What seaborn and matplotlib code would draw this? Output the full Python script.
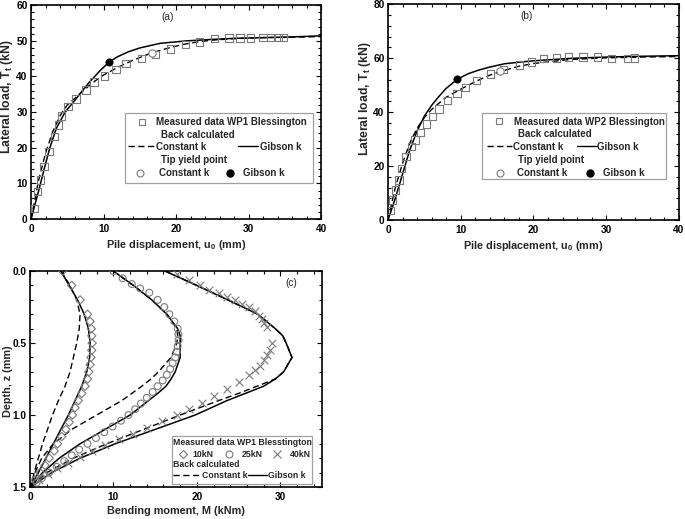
import numpy as np
import pandas as pd
import matplotlib
matplotlib.use("Agg")
import matplotlib.pyplot as plt
import seaborn as sns
from matplotlib.lines import Line2D
from matplotlib.legend import Legend
from matplotlib.patches import Rectangle
from matplotlib.ticker import AutoMinorLocator, FormatStrFormatter

# ---------------- data ----------------
# Panel (a) WP1
a_meas_x = [0.46, 0.9, 1.3, 1.8, 2.5, 3.2, 3.8, 4.2, 5.1, 6.2, 7.6, 8.7, 10.1, 11.7, 13.1, 15.2,
            17.2, 19.2, 21.3, 23.2, 25.3, 27.3, 28.8, 30.3, 32.0, 33.0, 34.1, 34.8]
a_meas_y = [3.0, 7.7, 10.9, 14.7, 18.9, 23.1, 26.4, 28.9, 31.5, 33.7, 36.2, 38.4, 40.1, 42.0, 43.6, 45.0,
            46.2, 47.7, 49.0, 49.7, 50.6, 50.8, 50.8, 50.8, 51.0, 50.9, 51.0, 51.0]
a_gib_x = [0, 1, 2, 2.6, 3.5, 4.7, 6.2, 7, 8.1, 9.5, 10.8, 12, 13.4, 15, 17.8, 21.5, 25, 28, 32, 36, 40]
a_gib_y = [0, 7.5, 15.5, 20, 25.5, 30, 33.7, 35.8, 38.5, 41.6, 44.1, 45.6, 46.9, 48.0, 49.3, 50.0, 50.4,
           50.7, 50.9, 51.1, 51.4]
a_con_x = [0, 0.5, 1, 2, 3, 4, 5, 6, 7, 8, 9, 10, 12, 14, 16.75, 19, 21, 23, 25, 28, 32, 36, 40]
a_con_y = [0, 5, 10.5, 18.5, 24.5, 29.0, 32.0, 33.8, 35.6, 37.4, 39.0, 40.4, 42.6, 44.5, 46.7, 48.0,
           49.0, 49.7, 50.2, 50.6, 50.9, 51.0, 51.2]
a_yield_con = (16.75, 46.7)
a_yield_gib = (10.8, 44.1)

# Panel (b) WP2
b_meas_x = [0.3, 0.64, 1.0, 1.5, 1.9, 2.5, 3.2, 3.7, 4.5, 5.3, 6.1, 7.0, 8.2, 9.5, 10.7, 12.2, 14.1,
            15.9, 18.1, 19.7, 21.4, 23.2, 24.8, 26.8, 28.8, 30.7, 32.9, 33.9]
b_meas_y = [3.5, 7.4, 11.1, 14.8, 19.1, 23.5, 27.2, 29.6, 32.5, 35.6, 38.3, 41.1, 44.4, 46.9, 49.1, 51.7,
            54.1, 55.9, 57.4, 58.6, 59.8, 60.1, 60.4, 60.4, 60.4, 59.8, 59.8, 60.0]
b_gib_x = [0, 1, 2, 3, 4, 5, 6, 7, 8, 9.55, 11, 12.5, 14, 16, 18, 20, 25, 30, 35, 40]
b_gib_y = [0, 8, 17, 26, 33, 38.5, 42.5, 45.8, 48.8, 52.2, 54.2, 55.6, 56.7, 57.9, 58.5, 59.0, 59.9,
           60.4, 60.7, 60.9]
b_con_x = [0, 0.5, 1, 2, 3, 4, 5, 6, 8, 10, 12, 14, 15.4, 18, 20, 25, 30, 35, 40]
b_con_y = [0, 6, 12, 21, 28.5, 34, 38, 41, 45.5, 48.5, 51.3, 53.7, 55.0, 57.0, 58.0, 59.5, 60.1, 60.4, 60.6]
b_yield_con = (15.4, 55.3)
b_yield_gib = (9.55, 52.2)

# Panel (c) bending moment profiles
c_10_z = [0, 0.1, 0.2, 0.3, 0.35, 0.4, 0.45, 0.5, 0.55, 0.6, 0.65, 0.7, 0.75, 0.8, 0.85, 0.9, 0.95,
          1.0, 1.05, 1.1, 1.15, 1.2, 1.25, 1.3, 1.35, 1.4, 1.45]
c_10_m = [3.9, 5.0, 6.0, 6.9, 7.2, 7.35, 7.4, 7.45, 7.4, 7.3, 7.2, 7.05, 6.9, 6.6, 6.2, 5.8, 5.4,
          5.1, 4.7, 4.3, 3.8, 3.3, 2.9, 2.3, 1.8, 1.2, 0.6]
c_25_z = [0, 0.05, 0.09, 0.12, 0.15, 0.2, 0.25, 0.3, 0.35, 0.4, 0.44, 0.48, 0.52, 0.56, 0.6, 0.64,
          0.68, 0.72, 0.76, 0.8, 0.84, 0.88, 0.92, 0.96, 1.0, 1.04, 1.08, 1.12, 1.16, 1.2, 1.24, 1.28,
          1.32, 1.36, 1.4, 1.44, 1.47]
c_25_m = [10.0, 11.1, 12.2, 13.2, 14.3, 15.3, 16.1, 16.7, 17.3, 17.7, 17.8, 17.8, 17.7, 17.6, 17.4, 17.1,
          16.8, 16.4, 15.9, 15.3, 14.7, 14.0, 13.3, 12.6, 11.8, 10.9, 9.9, 8.9, 7.9, 6.9, 5.9, 5.0,
          4.1, 3.2, 2.3, 1.4, 0.8]
c_40_z = [0.02, 0.06, 0.10, 0.13, 0.15, 0.18, 0.20, 0.23, 0.25, 0.28, 0.31, 0.33, 0.36, 0.39, 0.50,
          0.55, 0.58, 0.62, 0.66, 0.69, 0.72, 0.77, 0.82, 0.87, 0.92, 0.96, 1.00, 1.04, 1.09, 1.13,
          1.17, 1.21, 1.25, 1.29, 1.33, 1.37, 1.41, 1.45]
c_40_m = [17.6, 19.1, 20.4, 21.5, 22.6, 23.6, 24.6, 25.4, 26.2, 27.0, 27.5, 27.8, 28.1, 28.4, 29.0,
          28.8, 28.4, 28.0, 27.6, 27.0, 26.3, 25.0, 23.6, 22.1, 20.6, 19.0, 17.6, 15.8, 14.0, 12.4,
          10.7, 9.0, 7.4, 6.0, 4.5, 3.2, 2.1, 1.1]

c_line_z = [0, 0.1, 0.2, 0.3, 0.4, 0.45, 0.5, 0.6, 0.7, 0.75, 0.8, 0.85, 0.9, 1.0, 1.1, 1.2, 1.3, 1.4, 1.5]
c_gib10 = [3.7, 4.7, 5.7, 6.5, 7.0, 7.1, 7.2, 7.15, 6.8, 6.5, 6.2, 5.8, 5.4, 4.6, 3.7, 2.8, 1.9, 1.0, 0.1]
c_con10 = [3.7, 4.8, 5.6, 6.0, 5.9, 5.75, 5.6, 5.2, 4.8, 4.5, 4.2, 3.8, 3.4, 2.7, 2.1, 1.5, 1.0, 0.5, 0.1]
c_gib25 = [10.0, 12.4, 14.6, 16.4, 17.7, 18.0, 18.0, 18.0, 17.4, 16.9, 16.3, 15.3, 14.2, 12.0, 9.0, 6.0, 3.5, 1.5, 0.1]
c_con25 = [10.0, 12.4, 14.6, 16.4, 17.6, 17.7, 17.6, 16.9, 15.4, 14.5, 13.4, 12.2, 11.0, 8.0, 5.0, 2.8, 1.4, 0.6, 0.1]
c_gib40 = [16.2, 20.0, 23.7, 27.3, 29.4, 30.3, 30.7, 31.4, 30.4, 29.4, 28.0, 25.8, 23.6, 19.8, 15.0, 10.2, 6.0, 2.6, 0.1]
c_con40 = [16.2, 20.0, 23.7, 27.3, 29.4, 30.3, 30.7, 31.4, 30.4, 29.4, 27.2, 25.0, 22.6, 18.0, 13.6, 9.2, 5.2, 2.0, 0.1]

# ---------------- style ----------------
sns.set_theme(style="ticks")
plt.rcParams["font.family"] = ["Liberation Sans", "DejaVu Sans"]
plt.rcParams["font.weight"] = "bold"
plt.rcParams["axes.labelweight"] = "bold"
plt.rcParams["mathtext.fontset"] = "custom"
plt.rcParams["mathtext.rm"] = "Liberation Sans:bold"
plt.rcParams["mathtext.it"] = "Liberation Sans:bold"
plt.rcParams["mathtext.bf"] = "Liberation Sans:bold"
plt.rcParams["mathtext.default"] = "regular"

GRAY = "#7a7a7a"
W, H, DPI = 6.85, 5.19, 100
TICK_FS = 7.3
LAB_FS = 7.8
YLAB_AB = 8.8
DASH = (0, (4.5, 2.5))

fig = plt.figure(figsize=(W, H), dpi=DPI)
ax_a = fig.add_axes([0.0453, 0.578, 0.4234, 0.412])
ax_b = fig.add_axes([0.5664, 0.576, 0.4248, 0.416])
ax_c = fig.add_axes([0.0438, 0.0617, 0.4263, 0.416])


def style_axes(ax):
    for s in ax.spines.values():
        s.set_linewidth(1.2)
        s.set_color("black")
    ax.tick_params(which="both", direction="in", top=True, right=True, colors="black",
                   labelsize=TICK_FS, width=0.8)
    ax.tick_params(which="major", length=3.5)
    ax.tick_params(which="minor", length=2)
    ax.tick_params(axis="x", pad=3.5)
    ax.tick_params(axis="y", pad=2.5)
    ax.xaxis.set_minor_locator(AutoMinorLocator(5))
    ax.yaxis.set_minor_locator(AutoMinorLocator(5))
    for lab in ax.get_xticklabels() + ax.get_yticklabels():
        lab.set_fontweight("bold")


def entry(ax, handle, label, x0, x1, xt, y, fs):
    axw = ax.get_position().width * W * DPI
    fpx = fs * DPI / 72.0
    hl = (x1 - x0) * axw / fpx
    pad = (xt - x1) * axw / fpx
    leg = Legend(ax, [handle], [label], loc="center left", bbox_to_anchor=(x0, y),
                 bbox_transform=ax.transAxes, frameon=False, borderpad=0, borderaxespad=0,
                 handlelength=hl, handletextpad=pad, numpoints=1,
                 prop={"size": fs, "weight": "bold"})
    ax.add_artist(leg)


def frame(ax, l, b, r, t):
    ax.add_patch(Rectangle((l, b), r - l, t - b, transform=ax.transAxes, fill=False,
                           edgecolor="#a0a0a0", lw=0.9, zorder=5, clip_on=False))


h_sq = Line2D([], [], ls="none", marker="s", ms=5, mfc="none", mec=GRAY, mew=0.8)
h_dash = Line2D([], [], color="black", lw=1.0, ls=DASH)
h_solid = Line2D([], [], color="black", lw=1.0)
h_oc = Line2D([], [], ls="none", marker="o", ms=5, mfc="none", mec=GRAY, mew=0.8)
h_bc = Line2D([], [], ls="none", marker="o", ms=5, mfc="black", mec="black")
h_di = Line2D([], [], ls="none", marker="D", ms=4.4, mfc="none", mec=GRAY, mew=0.8)
h_x = Line2D([], [], ls="none", marker="x", ms=6, color=GRAY, mew=0.8)


def load_panel(ax, mx, my, gx, gy, cx, cy, yc, yg, ymax, ystep, tag, wp, lay):
    sns.lineplot(x=cx, y=cy, ax=ax, color="black", lw=1.0, ls=DASH, sort=False, estimator=None)
    sns.lineplot(x=gx, y=gy, ax=ax, color="black", lw=1.1, sort=False, estimator=None)
    sns.scatterplot(x=mx, y=my, ax=ax, marker="s", s=28, facecolor="none", edgecolor=GRAY,
                    linewidth=0.8, zorder=3)
    sns.scatterplot(x=[yc[0]], y=[yc[1]], ax=ax, marker="o", s=28, facecolor="white",
                    edgecolor=GRAY, linewidth=0.8, zorder=4)
    sns.scatterplot(x=[yg[0]], y=[yg[1]], ax=ax, marker="o", s=28, color="black",
                    edgecolor="black", linewidth=0.5, zorder=4)
    ax.set_xlim(0, 40)
    ax.set_ylim(0, ymax)
    ax.set_xticks(np.arange(0, 41, 10))
    ax.set_yticks(np.arange(0, ymax + 1, ystep))
    ax.set_xlabel("Pile displacement, u$_0$ (mm)", fontsize=LAB_FS, fontweight="bold", labelpad=3)
    ax.set_ylabel("Lateral load, T$_t$ (kN)", fontsize=YLAB_AB, fontweight="bold")
    ax.yaxis.set_label_coords(lay["ylab"][0], lay["ylab"][1])
    style_axes(ax)
    ax.text(lay["tag"][0], lay["tag"][1], tag, transform=ax.transAxes, fontsize=7.3,
            fontweight="normal", ha="center", va="center")
    fs = 7
    l, b, r, t = lay["frame"]
    frame(ax, l, b, r, t)
    y1, y2, y3, y4, y5 = lay["rows"]
    sq = lay["sq"]
    entry(ax, h_sq, "Measured data %s Blessington" % wp, sq - 0.016, sq + 0.016, lay["sqt"], y1, fs)
    ax.text(lay["hdr"], y2, "Back calculated", transform=ax.transAxes, fontsize=fs,
            fontweight="bold", va="center", ha="left")
    d0, d1, dt, s0, s1, st = lay["lines"]
    entry(ax, h_dash, "Constant k", d0, d1, dt, y3, fs)
    entry(ax, h_solid, "Gibson k", s0, s1, st, y3, fs)
    ax.text(lay["hdr"], y4, "Tip yield point", transform=ax.transAxes, fontsize=fs,
            fontweight="bold", va="center", ha="left")
    oc, oct_, bc, bct = lay["pts"]
    entry(ax, h_oc, "Constant k", oc - 0.016, oc + 0.016, oct_, y5, fs)
    entry(ax, h_bc, "Gibson k", bc - 0.016, bc + 0.016, bct, y5, fs)


lay_a = dict(tag=(0.472, 0.945), frame=(0.324, 0.170, 0.971, 0.497), ylab=(-0.056, 0.575),
             rows=(0.453, 0.393, 0.338, 0.276, 0.213), sq=0.382, sqt=0.431, hdr=0.448,
             lines=(0.333, 0.424, 0.431, 0.713, 0.784, 0.788), pts=(0.376, 0.442, 0.686, 0.732))
lay_b = dict(tag=(0.477, 0.944), frame=(0.322, 0.190, 0.955, 0.494), ylab=(-0.052, 0.565),
             rows=(0.455, 0.398, 0.339, 0.278, 0.216), sq=0.383, sqt=0.433, hdr=0.448,
             lines=(0.339, 0.427, 0.431, 0.650, 0.717, 0.720), pts=(0.385, 0.442, 0.694, 0.740))

load_panel(ax_a, a_meas_x, a_meas_y, a_gib_x, a_gib_y, a_con_x, a_con_y, a_yield_con, a_yield_gib,
           60, 10, "(a)", "WP1", lay_a)
load_panel(ax_b, b_meas_x, b_meas_y, b_gib_x, b_gib_y, b_con_x, b_con_y, b_yield_con, b_yield_gib,
           80, 20, "(b)", "WP2", lay_b)

# ---------------- panel (c) ----------------
ax = ax_c
for gib, con in [(c_gib10, c_con10), (c_gib25, c_con25), (c_gib40, c_con40)]:
    sns.lineplot(x=con, y=c_line_z, ax=ax, color="black", lw=1.0, ls=DASH, sort=False,
                 estimator=None, orient="y")
    sns.lineplot(x=gib, y=c_line_z, ax=ax, color="black", lw=1.1, sort=False,
                 estimator=None, orient="y")
sns.scatterplot(x=c_10_m, y=c_10_z, ax=ax, marker="D", s=18, facecolor="none", edgecolor=GRAY,
                linewidth=0.8, zorder=3)
sns.scatterplot(x=c_25_m, y=c_25_z, ax=ax, marker="o", s=24, facecolor="none", edgecolor=GRAY,
                linewidth=0.8, zorder=3)
sns.scatterplot(x=c_40_m, y=c_40_z, ax=ax, marker="x", s=30, color=GRAY, linewidth=0.8, zorder=3)
ax.set_xlim(0, 35)
ax.set_ylim(1.5, 0)
ax.set_xticks([0, 10, 20, 30])
ax.set_yticks([0, 0.5, 1.0, 1.5])
ax.yaxis.set_major_formatter(FormatStrFormatter("%.1f"))
ax.set_xlabel("Bending moment, M (kNm)", fontsize=LAB_FS, fontweight="bold", labelpad=3)
ax.set_ylabel("Depth, z (mm)", fontsize=LAB_FS, fontweight="bold")
ax.yaxis.set_label_coords(-0.058, 0.49)
style_axes(ax)
ax.text(0.896, 0.943, "(c)", transform=ax.transAxes, fontsize=7.3, fontweight="normal",
        ha="center", va="center")
fsc = 6.3
frame(ax, 0.485, 0.015, 0.965, 0.236)
ax.text(0.489, 0.207, "Measured data WP1 Blesstington", transform=ax.transAxes, fontsize=fsc,
        fontweight="bold", va="center", ha="left")
entry(ax, h_di, "10kN", 0.508, 0.538, 0.557, 0.151, fsc)
entry(ax, h_oc, "25kN", 0.667, 0.697, 0.725, 0.151, fsc)
entry(ax, h_x, "40kN", 0.832, 0.862, 0.890, 0.151, fsc)
ax.text(0.489, 0.105, "Back calculated", transform=ax.transAxes, fontsize=fsc,
        fontweight="bold", va="center", ha="left")
entry(ax, h_dash, "Constant k", 0.489, 0.582, 0.588, 0.055, fsc)
entry(ax, h_solid, "Gibson k", 0.747, 0.810, 0.816, 0.055, fsc)

for a in (ax_a, ax_b, ax_c):
    if a.get_legend() is not None:
        a.get_legend().remove()

fig.savefig("out.png", dpi=DPI)
